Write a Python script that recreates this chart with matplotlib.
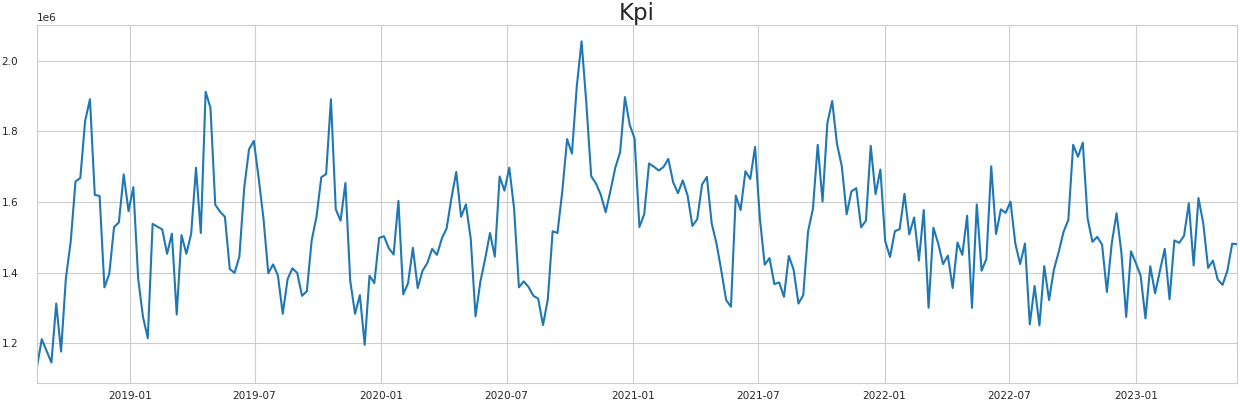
import numpy as np
import pandas as pd
import seaborn as sns
from matplotlib import pyplot as plt
import matplotlib.dates as mdates

# weekly kpi values, in millions
kpi_millions = [
    1.133, 1.211, 1.178, 1.145, 1.312, 1.176, 1.383, 1.487, 1.658, 1.668,
    1.830, 1.891, 1.620, 1.617, 1.358, 1.396, 1.529, 1.542, 1.678, 1.574,
    1.642, 1.383, 1.274, 1.214, 1.538, 1.530, 1.522, 1.453, 1.510, 1.281,
    1.506, 1.453, 1.510, 1.697, 1.512, 1.912, 1.867, 1.592, 1.572, 1.558,
    1.410, 1.399, 1.445, 1.639, 1.749, 1.773, 1.668, 1.553, 1.398, 1.423,
    1.391, 1.283, 1.381, 1.412, 1.399, 1.334, 1.347, 1.491, 1.558, 1.670,
    1.679, 1.891, 1.579, 1.547, 1.654, 1.377, 1.283, 1.336, 1.195, 1.391,
    1.370, 1.498, 1.503, 1.469, 1.451, 1.603, 1.338, 1.370, 1.470, 1.356,
    1.405, 1.427, 1.467, 1.450, 1.496, 1.525, 1.611, 1.685, 1.558, 1.593,
    1.496, 1.276, 1.374, 1.439, 1.512, 1.445, 1.672, 1.632, 1.697, 1.582,
    1.358, 1.375, 1.359, 1.334, 1.326, 1.251, 1.324, 1.517, 1.512, 1.630,
    1.778, 1.737, 1.926, 2.055, 1.878, 1.673, 1.652, 1.620, 1.571, 1.632,
    1.697, 1.741, 1.897, 1.818, 1.780, 1.529, 1.565, 1.709, 1.700, 1.689,
    1.699, 1.722, 1.656, 1.625, 1.661, 1.618, 1.532, 1.551, 1.649, 1.671,
    1.539, 1.482, 1.405, 1.322, 1.303, 1.618, 1.577, 1.687, 1.665, 1.756,
    1.553, 1.422, 1.441, 1.367, 1.372, 1.331, 1.447, 1.408, 1.312, 1.336,
    1.517, 1.580, 1.762, 1.601, 1.823, 1.886, 1.764, 1.701, 1.565, 1.630,
    1.639, 1.528, 1.547, 1.759, 1.622, 1.692, 1.489, 1.444, 1.517, 1.523,
    1.623, 1.508, 1.556, 1.434, 1.577, 1.300, 1.527, 1.482, 1.424, 1.448,
    1.356, 1.485, 1.450, 1.561, 1.300, 1.593, 1.405, 1.439, 1.701, 1.509,
    1.579, 1.569, 1.601, 1.482, 1.424, 1.482, 1.253, 1.362, 1.250, 1.418,
    1.322, 1.408, 1.458, 1.515, 1.549, 1.762, 1.728, 1.768, 1.553, 1.487,
    1.501, 1.479, 1.345, 1.482, 1.568, 1.458, 1.274, 1.460, 1.427, 1.391,
    1.270, 1.418, 1.341, 1.405, 1.467, 1.324, 1.491, 1.484, 1.504, 1.596,
    1.420, 1.611, 1.539, 1.413, 1.434, 1.380, 1.365, 1.405, 1.482, 1.480,
]
start_date = '2018-08-19'
title = 'Kpi'

dates = pd.date_range(start_date, periods=len(kpi_millions), freq='7D')
kpi = np.array(kpi_millions) * 1e6

sns.set_style('whitegrid')
plt.rcParams['font.family'] = ['DejaVu Sans']

fig = plt.figure(figsize=(12.4, 4.05), dpi=100)
ax = fig.add_axes([0.0298, 0.0543, 0.9678, 0.8837])
ax.plot(dates, kpi, color='#1f77b4', linewidth=1.5)

ax.set_xlim(dates[0], dates[-1])
ax.xaxis.set_major_locator(mdates.MonthLocator(bymonth=(1, 7)))
ax.xaxis.set_major_formatter(mdates.DateFormatter('%Y-%m'))
ax.tick_params(axis='both', labelsize=7.6, colors='.15')
ax.tick_params(axis='x', pad=2.5)
ax.tick_params(axis='y', pad=10)
ax.yaxis.get_offset_text().set_fontsize(7.6)
ax.set_title(title, fontsize=16.5, pad=4)

fig.savefig('out.png', dpi=100)
